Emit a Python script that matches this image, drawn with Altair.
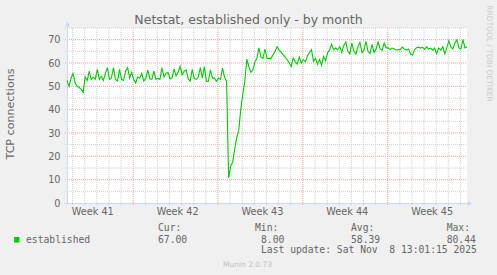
import altair as alt
import pandas as pd

# ---- data ----
established = [
    52.5, 50.0, 53.5, 55.5, 51.5, 50.0, 49.5, 48.8, 47.5, 54.0,
    52.5, 56.5, 53.0, 54.0, 53.0, 57.3, 53.0, 54.3, 52.5, 55.5,
    58.0, 53.0, 53.6, 58.0, 53.0, 52.3, 57.3, 53.0, 52.5, 56.6,
    58.0, 53.6, 56.0, 53.0, 51.5, 54.0, 53.5, 55.5, 52.3, 53.5,
    57.0, 53.2, 53.0, 56.5, 53.0, 53.4, 53.0, 58.0, 54.0, 55.5,
    56.0, 53.2, 53.6, 57.5, 54.5, 56.0, 58.6, 55.0, 56.5, 57.0,
    53.2, 52.3, 57.3, 53.4, 53.0, 54.0, 58.0, 53.5, 58.5, 52.1,
    52.3, 57.0, 53.5, 53.5, 52.1, 53.6, 53.0, 57.8, 54.0, 52.0,
    10.8, 15.8, 17.5, 23.0, 28.0, 31.0, 40.0, 46.5, 52.0, 61.6,
    58.5, 56.0, 57.0, 60.5, 62.0, 66.5, 62.5, 62.0, 66.0, 62.0,
    62.0, 62.0, 63.5, 65.0, 67.0, 65.5, 64.5, 63.6, 62.5, 61.4,
    60.0, 58.5, 62.1, 60.5, 59.5, 62.5, 60.0, 61.4, 60.5, 63.0,
    64.5, 65.7, 60.7, 62.0, 59.5, 61.5, 59.0, 62.8, 61.0, 64.3,
    65.7, 68.0, 65.7, 66.4, 65.7, 67.0, 64.5, 67.5, 69.0, 65.0,
    64.0, 68.5, 65.0, 63.8, 67.0, 68.8, 64.5, 65.5, 69.3, 65.0,
    64.0, 68.0, 64.5, 66.0, 69.0, 66.0, 65.5, 68.5, 66.5, 66.5,
    65.8, 66.4, 66.0, 65.5, 65.8, 65.7, 66.8, 66.0, 65.5, 66.0,
    64.0, 63.5, 65.7, 66.5, 66.8, 66.4, 66.8, 65.8, 67.0, 66.0,
    66.4, 65.5, 66.4, 64.0, 66.4, 65.5, 67.0, 64.0, 66.5, 69.5,
    67.0, 66.0, 68.5, 70.0, 66.5, 66.0, 70.0, 66.5, 67.0,
]
series_start = "2025-10-06 13:00"
series_step = "4h"

week_names = ["Week 41", "Week 42", "Week 43", "Week 44", "Week 45"]
week_label_times = ["2025-10-08T16:00:00Z", "2025-10-15T16:00:00Z", "2025-10-22T16:00:00Z",
                    "2025-10-29T16:00:00Z", "2025-11-05T16:00:00Z"]
week_starts = ["2025-10-12T00:00:00Z", "2025-10-19T00:00:00Z",
               "2025-10-26T00:00:00Z", "2025-11-02T00:00:00Z"]
y_major = [10, 20, 30, 40, 50, 60, 70]
y_minor = [5, 15, 25, 35, 45, 55, 65, 75]
y_ticks = [0, 10, 20, 30, 40, 50, 60, 70]

title_text = "Netstat, established only - by month"
y_title = "TCP connections"
series_name = "established"
stat_headers = ["Cur:", "Min:", "Avg:", "Max:"]
stat_values = ["67.00", "8.00", "58.39", "80.44"]
last_update = "Last update: Sat Nov\u00a0\u00a08 13:01:15 2025"
footer = "Munin 2.0.73"
side_text = "RRDTOOL / TOBI OETIKER"

# ---- frames ----
times = pd.date_range(pd.Timestamp(series_start, tz="UTC"), periods=len(established), freq=series_step)
df = pd.DataFrame({"t": times.strftime("%Y-%m-%dT%H:%M:%SZ"), "v": established})

days = pd.date_range("2025-10-07", "2025-11-08", freq="D").strftime("%Y-%m-%dT%H:%M:%SZ")
day_lines = pd.DataFrame({"t": [d for d in days if d not in week_starts]})
week_df = pd.DataFrame({"t": week_starts})
wl_df = pd.DataFrame({"t": week_label_times, "label": week_names})
ymaj_df = pd.DataFrame({"v": y_major})
ymin_df = pd.DataFrame({"v": y_minor})

GREEN = "#00CC00"
FONT = "#666666"
AXIS = "#CFD6F8"
SANS = "DejaVu Sans"
MONO = "DejaVu Sans Mono"

xs = alt.Scale(type="utc",
               domain=[alt.DateTime(year=2025, month=10, date=6, hours=13, utc=True),
                       alt.DateTime(year=2025, month=11, date=8, hours=13, utc=True)])
ys = alt.Scale(domain=[0, 75], nice=False)
yaxis = alt.Axis(values=y_ticks, ticks=False, domain=False, grid=False,
                 labelFont=SANS, labelFontSize=9.7, labelColor=FONT,
                 labelPadding=7, title=None)

X = alt.X("t:T", scale=xs, axis=None)
Y = alt.Y("v:Q", scale=ys, axis=yaxis)
one = alt.Data(values=[{}])

layers = []
# minor vertical grid
layers.append(alt.Chart(day_lines).mark_rule(color="#CFCFCF", strokeDash=[1, 1], strokeWidth=1).encode(
    x=X, y=alt.value(0), y2=alt.value(177)))
# minor horizontal grid
layers.append(alt.Chart(ymin_df).mark_rule(color="#CFCFCF", strokeDash=[1, 1], strokeWidth=1).encode(
    y=Y, x=alt.value(-2), x2=alt.value(400)))
# major vertical grid
layers.append(alt.Chart(week_df).mark_rule(color="#EBA3A3", strokeDash=[1, 1], strokeWidth=1).encode(
    x=X, y=alt.value(0), y2=alt.value(177)))
# major horizontal grid
layers.append(alt.Chart(ymaj_df).mark_rule(color="#EBA3A3", strokeDash=[1, 1], strokeWidth=1).encode(
    y=Y, x=alt.value(-2), x2=alt.value(400)))
# axes lines
layers.append(alt.Chart(one).mark_rule(color=AXIS, strokeWidth=1).encode(
    x=alt.value(0.5), y=alt.value(-3), y2=alt.value(175.5)))
layers.append(alt.Chart(one).mark_rule(color=AXIS, strokeWidth=1).encode(
    x=alt.value(-3), x2=alt.value(403), y=alt.value(175.5)))
# arrows
layers.append(alt.Chart(one).mark_point(shape="triangle-up", filled=True, color=AXIS, size=28, opacity=1).encode(
    x=alt.value(0.5), y=alt.value(-4)))
layers.append(alt.Chart(one).mark_point(shape="triangle-right", filled=True, color=AXIS, size=28, opacity=1).encode(
    x=alt.value(403), y=alt.value(175.5)))
# data line
layers.append(alt.Chart(df).mark_line(color=GREEN, strokeWidth=1.1).encode(x=X, y=Y))
# week labels
layers.append(alt.Chart(wl_df).mark_text(font=SANS, fontSize=9.7, color=FONT, align="center",
                                         baseline="alphabetic").encode(
    x=X, y=alt.value(187), text="label:N"))

def txt(text, x, y, font=SANS, size=9.7, color=FONT, align="left", baseline="alphabetic", angle=0):
    return alt.Chart(one).mark_text(text=text, font=font, fontSize=size, color=color, align=align,
                                    baseline=baseline, angle=angle).encode(x=alt.value(x), y=alt.value(y))

layers.append(txt(title_text, 181.5, -4, size=12.5, align="center"))
layers.append(txt(y_title, -56, 86, size=11.1, align="center", baseline="middle", angle=270))
layers.append(txt(side_text, 422, 25.5, size=7.5, color="#CCCCCC", align="center", baseline="middle", angle=90))
layers.append(alt.Chart(one).mark_rect(color=GREEN).encode(
    x=alt.value(-53), x2=alt.value(-47.5), y=alt.value(209), y2=alt.value(214.5)))
layers.append(txt(series_name, -41, 215, font=MONO))
hx = [91, 188, 284, 379.7]
vx = [91, 194, 284, 379.7]
for h, v, a, b in zip(stat_headers, stat_values, hx, vx):
    layers.append(txt(h, a, 203, font=MONO))
    layers.append(txt(v, b, 215, font=MONO))
layers.append(txt(last_update, 194, 225, font=MONO))
layers.append(txt(footer, 180.5, 239, size=7.5, color="#C0C0C0", align="center"))

chart = alt.layer(*layers).properties(
    width=400, height=175,
    autosize=alt.AutoSizeParams(type="none"),
    padding={"left": 67, "top": 28, "right": 30, "bottom": 72},
    background="#F0F0F0",
).configure_view(fill="white", stroke=None)

chart.save("out.html", embed_options={"renderer": "svg", "actions": False})
